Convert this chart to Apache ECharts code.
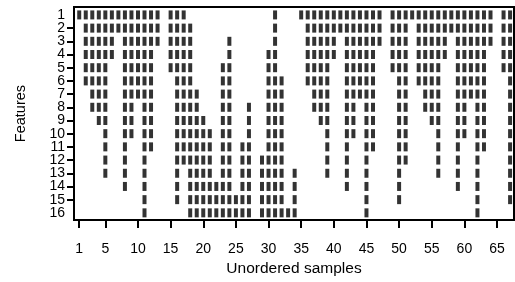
<!DOCTYPE html>
<html>
<head>
<meta charset="utf-8">
<script src="https://cdn.jsdelivr.net/npm/echarts@6/dist/echarts.min.js"></script>
<style>
  html, body { margin: 0; padding: 0; background: #fff; }
  #chart { width: 515px; height: 282px; }
</style>
</head>
<body>
<div id="chart"></div>
<script>
// samples (1..67) where each feature is present
const f1 = [1,2,3,4,5,6,7,8,9,10,11,12,13,15,16,17,31,35,36,37,38,39,40,41,42,43,44,45,46,47,49,50,51,52,53,54,55,56,57,58,59,60,61,62,63,64,66,67];
const f2 = [2,3,4,5,6,7,8,9,10,11,12,13,15,16,17,18,31,36,37,38,39,40,41,42,43,44,45,46,47,49,50,51,53,54,55,56,57,58,59,60,61,62,63,64,66,67];
const f3 = [2,3,4,5,6,8,9,10,11,12,13,15,16,17,18,24,31,36,37,38,39,40,42,43,44,45,46,47,49,50,51,53,54,55,56,57,59,60,61,62,63,64,66,67];
const f4 = [2,3,4,5,6,8,9,10,11,12,15,16,17,18,24,30,31,36,37,38,39,40,42,43,44,45,46,49,50,51,53,54,55,56,57,59,60,61,62,63,66,67];
const f5 = [2,3,4,5,8,9,10,11,12,15,16,17,18,23,24,30,31,36,37,38,39,42,43,44,45,46,49,50,51,53,54,55,56,59,60,61,62,63,66,67];
const f6 = [2,3,4,5,8,9,10,11,12,16,17,18,23,24,30,31,32,36,37,38,39,42,43,44,45,46,50,51,53,54,55,56,59,60,61,62,63,67];
const f7 = [3,4,5,8,9,10,11,12,16,17,18,19,23,24,30,31,32,37,38,39,42,43,44,45,46,50,51,54,55,56,59,60,61,62,63,67];
const f8 = [3,4,5,8,9,11,12,16,17,18,19,23,24,27,30,31,32,37,38,39,42,43,45,46,50,51,54,55,56,59,60,62,63,67];
const f9 = [4,5,8,9,11,12,16,17,18,19,20,23,24,27,30,31,32,38,39,42,43,45,46,50,51,55,56,59,60,62,63,67];
const f10 = [5,8,9,11,12,16,17,18,19,20,21,23,24,27,30,31,32,39,42,43,45,46,50,51,56,59,60,62,63,67];
const f11 = [5,8,11,12,16,17,18,19,20,21,23,24,26,27,30,31,32,39,42,45,46,50,51,56,59,62,63,67];
const f12 = [5,8,11,16,17,18,19,20,21,23,24,26,27,29,30,31,32,39,42,45,50,51,56,59,62,67];
const f13 = [5,8,11,16,18,19,20,21,23,24,26,27,29,30,31,32,34,39,42,45,50,56,59,62,67];
const f14 = [8,11,16,18,19,20,21,22,23,24,26,27,29,30,31,32,34,42,45,50,59,62,67];
const f15 = [11,16,18,19,20,21,22,23,24,25,26,27,29,30,31,32,34,45,50,62,67];
const f16 = [11,18,19,20,21,22,23,24,25,26,27,29,30,31,32,33,34,45,62];

const features = [f1, f2, f3, f4, f5, f6, f7, f8, f9, f10, f11, f12, f13, f14, f15, f16];
const xTicks = [1, 5, 10, 15, 20, 25, 30, 35, 40, 45, 50, 55, 60, 65];
const yTicks = [1, 2, 3, 4, 5, 6, 7, 8, 9, 10, 11, 12, 13, 14, 15, 16];
const yEndTicks = [1, 16];

const points = [];
features.forEach((samples, i) => {
  samples.forEach(s => points.push([s, i + 1]));
});

const font = "'Liberation Sans', Arial, sans-serif";
const chart = echarts.init(document.getElementById('chart'));

const yBase = {
  type: 'value',
  inverse: true,
  min: 0.4,
  max: 16.55,
  position: 'left',
  splitLine: { show: false }
};
const yLabelStyle = { color: '#000', fontSize: 14, fontFamily: font, margin: 9, hideOverlap: false };

chart.setOption({
  animation: false,
  backgroundColor: '#fff',
  grid: {
    left: 74, right: 1, top: 7, bottom: 57,
    show: true, borderColor: '#000', borderWidth: 2
  },
  xAxis: {
    type: 'value',
    min: 0.2,
    max: 67.6,
    name: 'Unordered samples',
    nameLocation: 'middle',
    nameGap: 35,
    nameTextStyle: { color: '#000', fontSize: 15.5, fontFamily: font },
    splitLine: { show: false },
    axisLine: { show: true, lineStyle: { color: '#000', width: 2 } },
    axisTick: { show: true, customValues: xTicks, length: 8, lineStyle: { color: '#000', width: 2 } },
    axisLabel: {
      customValues: xTicks, color: '#000', fontSize: 14, fontFamily: font, margin: 22,
      showMinLabel: true, showMaxLabel: true, hideOverlap: false
    }
  },
  yAxis: [
    Object.assign({}, yBase, {
      name: 'Features',
      nameLocation: 'middle',
      nameGap: 46,
      nameTextStyle: { color: '#000', fontSize: 14.5, fontFamily: font },
      axisLine: { show: true, lineStyle: { color: '#000', width: 2 } },
      axisTick: { show: true, customValues: yTicks, length: 7, lineStyle: { color: '#000', width: 2 } },
      axisLabel: Object.assign({ customValues: yTicks, showMinLabel: false, showMaxLabel: false }, yLabelStyle)
    }),
    Object.assign({}, yBase, {
      offset: 0,
      axisLine: { show: false },
      axisTick: { show: false },
      axisLabel: Object.assign({ customValues: yEndTicks, showMinLabel: true, showMaxLabel: true }, yLabelStyle)
    })
  ],
  series: [{
    type: 'scatter',
    symbol: 'rect',
    symbolSize: [4, 9],
    itemStyle: { color: '#000' },
    data: points
  }]
});
</script>
</body>
</html>
